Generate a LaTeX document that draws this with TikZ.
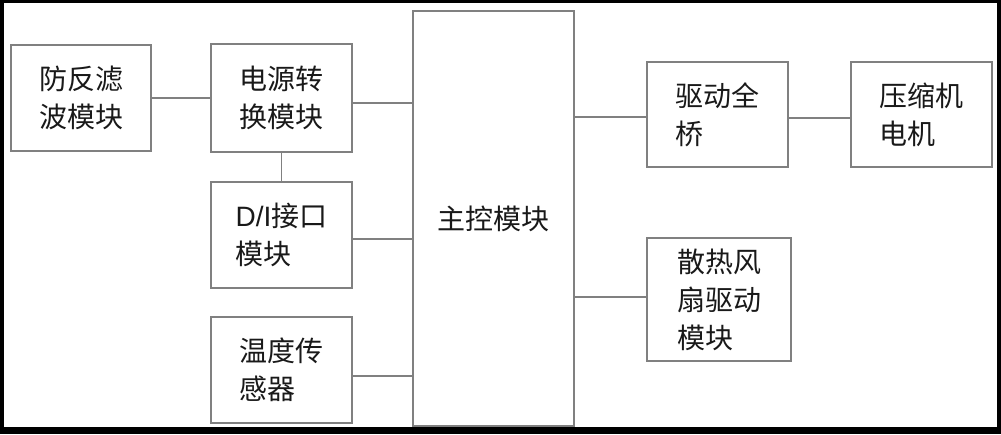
\documentclass[tikz,border=0pt]{standalone}
\usepackage{fontspec}
\setmainfont{Liberation Sans}
\newfontfamily\cjk{Noto Sans CJK SC}
\begin{document}
\begin{tikzpicture}[x=1pt,y=-1pt,
  blk/.style={draw=linegray, line width=1.8pt, inner sep=0pt, align=left,
    font=\cjk\fontsize{28}{38}\selectfont, text=black!90},
  conn/.style={draw=linegray, line width=1.8pt}]
\definecolor{linegray}{RGB}{128,128,128}
\useasboundingbox (0,0) rectangle (1001,434);
\fill[black] (0,0) rectangle (1001,434);
\fill[white] (4,3) rectangle (997,427);
% boxes
\node[blk, minimum width=140pt, minimum height=106pt] (fl) at (81,98) {防反滤\\波模块};
\node[blk, minimum width=141pt, minimum height=108pt] (ps) at (281.5,98) {电源转\\换模块};
\node[blk, minimum width=141pt, minimum height=106pt] (di) at (281.5,235) {{\fontspec{Liberation Sans}D/I}接口\\模块};
\node[blk, minimum width=141pt, minimum height=106pt] (ts) at (281.5,370) {温度传\\感器};
\node[blk, minimum width=161pt, minimum height=415pt] (mc) at (493.5,218.5) {主控模块};
\node[blk, minimum width=141pt, minimum height=105pt] (db) at (717.5,114.5) {驱动全\\桥};
\node[blk, minimum width=141pt, minimum height=105pt] (cm) at (921.5,114.5) {压缩机\\电机};
\node[blk, minimum width=144pt, minimum height=123pt] (fan) at (719,299.5) {散热风\\扇驱动\\模块};
% connectors
\draw[conn] (fl.east) -- (ps.west);
\draw[conn] ([yshift=-5pt]ps.east) -- ([yshift=-5pt]ps.east -| mc.west);
\draw[conn] (ps.south) -- (di.north);
\draw[conn] ([yshift=-4pt]di.east) -- ([yshift=-4pt]di.east -| mc.west);
\draw[conn] ([yshift=-6pt]ts.east) -- ([yshift=-6pt]ts.east -| mc.west);
\draw[conn] ([yshift=-2.5pt]db.west -| mc.east) -- ([yshift=-2.5pt]db.west);
\draw[conn] ([yshift=-3.5pt]db.east) -- ([yshift=-3.5pt]cm.west);
\draw[conn] ([yshift=2.5pt]fan.west -| mc.east) -- ([yshift=2.5pt]fan.west);
\end{tikzpicture}
\end{document}
